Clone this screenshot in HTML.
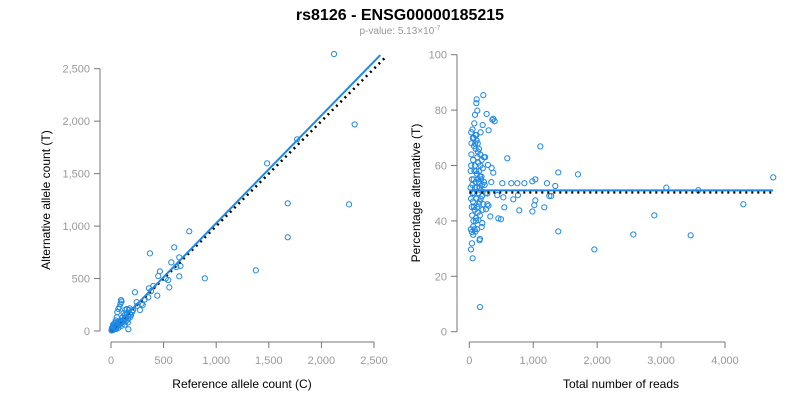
<!DOCTYPE html>
<html><head><meta charset="utf-8"><style>
body{margin:0;background:#fff;}
svg text{font-family:"Liberation Sans",Arial,sans-serif;}
</style></head><body>
<svg id="chart" width="800" height="400" xmlns="http://www.w3.org/2000/svg">
<text x="400" y="20" text-anchor="middle" font-size="16" font-weight="bold" fill="#000">rs8126 - ENSG00000185215</text>
<text x="400" y="34" text-anchor="middle" font-size="10" fill="#999">p-value: 5.13×10<tspan dy="-4" font-size="7">-7</tspan></text>
<g id="left"></g>
<g id="right"></g>
</svg>
<script>
const leftTicks=[0,500,1000,1500,2000,2500];
const leftPoints=[[2120,2640],[2316,1969],[1769,1827],[1484,1598],[1680,1217],[2263,1207],[1680,893],[1377,578],[892,502],[744,950],[601,797],[370,740],[649,702],[573,654],[649,521],[465,569],[449,524],[544,486],[554,416],[402,429],[440,337],[361,407],[228,369],[95,295],[244,276],[301,248],[275,200],[177,216],[165,16],[354,321],[660,620],[620,610],[380,380],[320,300],[290,260],[250,240],[520,500],
[20,15],[30,40],[40,25],[50,60],[60,45],[70,90],[80,70],[90,100],[100,80],[110,130],[120,95],[130,150],[140,120],[150,170],[160,140],[170,200],[180,160],[60,180],[70,210],[80,230],[90,260],[100,280],[45,100],[55,130],[30,70],[25,50],[15,30],[10,10],[35,20],[45,35],[55,40],[65,55],[75,60],[85,65],[95,75],[105,85],[115,100],[125,110],[140,90],[160,110],[180,130],[200,180],[210,200],[190,150],[120,170],[135,200],[150,210],[20,60],[40,80],[50,20],[70,30],[100,50],[130,60],[160,80],[5,5],[12,20],[28,28],[38,45],[48,50],[58,70],[68,75],[78,85],[88,95],[18,8],[8,25]];
const leftFit=[0,2560,0,2630];
const leftRef=[0,2620];
const rightXTicks=[0,1000,2000,3000,4000];
const rightYTicks=[0,20,40,60,80,100];
const rightPoints=[[4755,55.7],[4287,46],[3463,34.8],[3582,51.1],[3082,52],[2894,42],[2566,35.1],[1956,29.7],[1700,56.8],[1392,57.5],[1392,36.2],[1111,66.9],[1345,52.6],[1215,53.6],[1173,44.9],[1033,55],[1033,47.4],[1017,45.7],[986,54.3],[986,43.4],[1252,49],[1280,49],[861,53.6],[782,43.8],[761,49.3],[751,53.6],[657,53.6],[688,47.8],[594,62.6],[516,53.6],[548,44.9],[495,40.6],[454,40.9],[438,49.3],[532,48.5],[329,41.6],[219,85.4],[115,83.9],[110,82.5],[125,79.8],[78,75.2],[89,78.3],[271,78.6],[375,76.9],[396,76],[360,76.5],[302,72.7],[177,72],[209,74.6],[52,26.5],[26,29.7],[42,31.9],[167,8.9],[167,33.5],[160,33],[94,36.1],[193,37.8],[203,39.2],[141,40.3],[349,59.1],[375,57.4],[344,54],[292,60.2],[282,49.9],[282,46],[261,44.2],[300,45.5],
[30,60],[40,55],[50,50],[60,62],[70,45],[80,58],[90,52],[100,66],[110,48],[120,57],[130,43],[140,61],[150,54],[160,47],[170,64],[180,51],[190,56],[200,49],[210,59],[220,46],[230,63],[240,53],[35,68],[45,42],[55,70],[65,40],[75,67],[85,44],[95,71],[105,41],[115,69],[125,45],[135,65],[145,50],[155,58],[165,42],[175,60],[185,55],[195,62],[25,37],[40,36],[60,35],[30,72],[50,73],[70,70],[20,52],[22,58],[28,48],[32,64],[38,45],[48,53],[58,47],[68,55],[78,50],[88,60],[98,54],[108,58],[118,52],[128,63],[138,55],[148,46],[158,52],[168,56],[178,48],[198,53],[208,44],[228,54],[248,63],[258,50],[62,38],[82,37],[102,40],[122,37],[92,68],[112,71],[132,68],[152,66]];
const rightFit=[0,4750,51];
const rightRef=[0,4750,50.3];

const NS='http://www.w3.org/2000/svg';
function mk(tag,attrs,parent,txt){const e=document.createElementNS(NS,tag);for(const k in attrs)e.setAttribute(k,attrs[k]);if(txt!==undefined)e.textContent=txt;parent.appendChild(e);return e;}
const fmt=v=>v.toLocaleString('en-US');
const axisCol='#777',tickCol='#999';

// Left
const L=document.getElementById('left');
const lx=v=>111+v*263/2500, ly=v=>331-v*262.3/2500;
let ax=mk('line',{x1:100,x2:100,y1:ly(0),y2:ly(2500),stroke:axisCol},L);

ax=mk('line',{x1:lx(0),x2:lx(2500),y1:342,y2:342,stroke:axisCol},L);

leftTicks.forEach(t=>{
 mk('line',{x1:94,x2:100,y1:ly(t),y2:ly(t),stroke:axisCol},L);
 let e=mk('text',{x:90,y:ly(t)+4,'text-anchor':'end','font-size':11,fill:tickCol},L,fmt(t));
 
 mk('line',{x1:lx(t),x2:lx(t),y1:342,y2:348,stroke:axisCol},L);
 e=mk('text',{x:lx(t),y:364,'text-anchor':'middle','font-size':11,fill:tickCol},L,fmt(t));
 
});
let t=mk('text',{x:242,y:388,'text-anchor':'middle','font-size':12,fill:'#000'},L,'Reference allele count (C)');

t=mk('text',{x:50,y:200,'text-anchor':'middle','font-size':12,fill:'#000',transform:'rotate(-90 50 200)'},L,'Alternative allele count (T)');

leftPoints.forEach(p=>{const c=mk('circle',{cx:lx(p[0]),cy:ly(p[1]),r:2.6,fill:'none',stroke:'#1e88e5','stroke-width':1},L);
 });
let ln=mk('line',{x1:lx(leftRef[0]),y1:ly(leftRef[0]),x2:lx(leftRef[1]),y2:ly(leftRef[1]),stroke:'#000','stroke-width':2.5,'stroke-dasharray':'2 4'},L);

ln=mk('line',{x1:lx(leftFit[0]),y1:ly(leftFit[2]),x2:lx(leftFit[1]),y2:ly(leftFit[3]),stroke:'#1e88e5','stroke-width':2},L);


// Right
const R=document.getElementById('right');
const rx=v=>469.3+v*255.7/4000, ry=v=>331.7-v*277/100;
ax=mk('line',{x1:457,x2:457,y1:ry(0),y2:ry(100),stroke:axisCol},R);

ax=mk('line',{x1:rx(0),x2:rx(4000),y1:342,y2:342,stroke:axisCol},R);

rightYTicks.forEach(v=>{
 mk('line',{x1:451,x2:457,y1:ry(v),y2:ry(v),stroke:axisCol},R);
 const e=mk('text',{x:447,y:ry(v)+4,'text-anchor':'end','font-size':11,fill:tickCol},R,String(v));
 
});
rightXTicks.forEach(v=>{
 mk('line',{x1:rx(v),x2:rx(v),y1:342,y2:348,stroke:axisCol},R);
 const e=mk('text',{x:rx(v),y:364,'text-anchor':'middle','font-size':11,fill:tickCol},R,fmt(v));
 
});
t=mk('text',{x:621,y:388,'text-anchor':'middle','font-size':12,fill:'#000'},R,'Total number of reads');

t=mk('text',{x:420,y:193,'text-anchor':'middle','font-size':12,fill:'#000',transform:'rotate(-90 420 193)'},R,'Percentage alternative (T)');

rightPoints.forEach(p=>{const c=mk('circle',{cx:rx(p[0]),cy:ry(p[1]),r:2.6,fill:'none',stroke:'#1e88e5','stroke-width':1},R);
 });
ln=mk('line',{x1:rx(rightRef[0]),y1:ry(rightRef[2]),x2:rx(rightRef[1]),y2:ry(rightRef[2]),stroke:'#000','stroke-width':2.5,'stroke-dasharray':'2 4'},R);

ln=mk('line',{x1:rx(rightFit[0]),y1:ry(rightFit[2]),x2:rx(rightFit[1]),y2:ry(rightFit[2]),stroke:'#1e88e5','stroke-width':2},R);

</script>
</body></html>
